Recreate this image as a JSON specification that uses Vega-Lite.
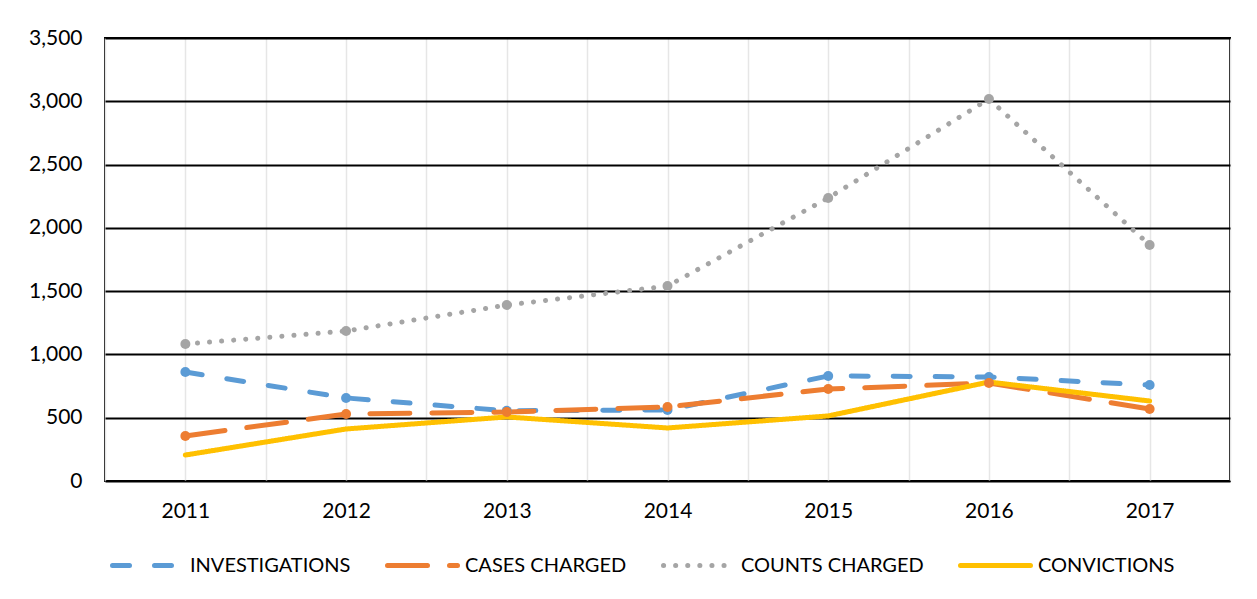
{
  "$schema": "https://vega.github.io/schema/vega-lite/v6.json",
  "width": 1125,
  "height": 443,
  "autosize": {"type": "none"},
  "padding": {"left": 105, "top": 38, "right": 27, "bottom": 118},
  "background": "white",
  "config": {
    "font": "Lato",
    "view": {"stroke": "black", "strokeWidth": 2},
    "axis": {"labelFont": "Lato", "labelFontSize": 21, "labelColor": "black", "ticks": false, "domain": false, "title": null}
  },
  "data": {
    "values": [
      {"year": 2011, "series": "INVESTIGATIONS", "value": 861},
      {"year": 2012, "series": "INVESTIGATIONS", "value": 656},
      {"year": 2013, "series": "INVESTIGATIONS", "value": 555},
      {"year": 2014, "series": "INVESTIGATIONS", "value": 561},
      {"year": 2015, "series": "INVESTIGATIONS", "value": 830},
      {"year": 2016, "series": "INVESTIGATIONS", "value": 822},
      {"year": 2017, "series": "INVESTIGATIONS", "value": 758},
      {"year": 2011, "series": "CASES CHARGED", "value": 356},
      {"year": 2012, "series": "CASES CHARGED", "value": 529},
      {"year": 2013, "series": "CASES CHARGED", "value": 545},
      {"year": 2014, "series": "CASES CHARGED", "value": 585},
      {"year": 2015, "series": "CASES CHARGED", "value": 727},
      {"year": 2016, "series": "CASES CHARGED", "value": 774},
      {"year": 2017, "series": "CASES CHARGED", "value": 569},
      {"year": 2011, "series": "COUNTS CHARGED", "value": 1082},
      {"year": 2012, "series": "COUNTS CHARGED", "value": 1185},
      {"year": 2013, "series": "COUNTS CHARGED", "value": 1390},
      {"year": 2014, "series": "COUNTS CHARGED", "value": 1540},
      {"year": 2015, "series": "COUNTS CHARGED", "value": 2236},
      {"year": 2016, "series": "COUNTS CHARGED", "value": 3018},
      {"year": 2017, "series": "COUNTS CHARGED", "value": 1865},
      {"year": 2011, "series": "CONVICTIONS", "value": 205},
      {"year": 2012, "series": "CONVICTIONS", "value": 411},
      {"year": 2013, "series": "CONVICTIONS", "value": 506},
      {"year": 2014, "series": "CONVICTIONS", "value": 419},
      {"year": 2015, "series": "CONVICTIONS", "value": 514},
      {"year": 2016, "series": "CONVICTIONS", "value": 782},
      {"year": 2017, "series": "CONVICTIONS", "value": 632}
    ]
  },
  "encoding": {
    "x": {
      "field": "year", "type": "quantitative",
      "scale": {"domain": [2010.5, 2017.5], "nice": false, "zero": false},
      "axis": {
        "values": [2010.5, 2011, 2011.5, 2012, 2012.5, 2013, 2013.5, 2014, 2014.5, 2015, 2015.5, 2016, 2016.5, 2017, 2017.5],
        "labelExpr": "datum.value % 1 == 0 ? '' + datum.value : ''",
        "grid": true, "gridColor": "#E6E6E6", "gridWidth": 1.5,
        "labelPadding": 19
      }
    },
    "y": {
      "field": "value", "type": "quantitative",
      "scale": {"domain": [0, 3500], "nice": false},
      "axis": {
        "values": [0, 500, 1000, 1500, 2000, 2500, 3000, 3500],
        "format": ",.0f",
        "grid": true, "gridColor": "black", "gridWidth": 2,
        "labelPadding": 23
      }
    },
    "color": {
      "field": "series", "type": "nominal",
      "scale": {
        "domain": ["INVESTIGATIONS", "CASES CHARGED", "COUNTS CHARGED", "CONVICTIONS"],
        "range": ["#5B9BD5", "#ED7D31", "#A5A5A5", "#FFC000"]
      },
      "legend": {
        "title": null, "orient": "none", "direction": "horizontal",
        "legendX": 5, "legendY": 490, "padding": 0, "gridAlign": "none",
        "symbolType": "stroke", "symbolSize": 4900, "symbolStrokeWidth": 5,
        "labelFont": "Lato", "labelFontSize": 20, "labelColor": "black",
        "labelOffset": 5, "columnPadding": 26, "labelLimit": 400,
        "encode": {"symbols": {"update": {"strokeCap": {"value": "round"}}}}
      }
    }
  },
  "layer": [
    {
      "mark": {"type": "line", "strokeWidth": 5, "strokeCap": "round", "strokeJoin": "round"},
      "encoding": {
        "strokeDash": {
          "field": "series", "type": "nominal",
          "scale": {
            "domain": ["INVESTIGATIONS", "CASES CHARGED", "COUNTS CHARGED", "CONVICTIONS"],
            "range": [[17, 25], [40, 22], [0.1, 12], [1, 0]]
          },
          "legend": {
            "title": null, "orient": "none", "direction": "horizontal",
            "legendX": 5, "legendY": 490, "padding": 0, "gridAlign": "none",
            "symbolType": "stroke", "symbolSize": 4900, "symbolStrokeWidth": 5,
            "labelFont": "Lato", "labelFontSize": 20, "labelColor": "black",
            "labelOffset": 5, "columnPadding": 26, "labelLimit": 400,
            "encode": {"symbols": {"update": {"strokeCap": {"value": "round"}}}}
          }
        }
      }
    },
    {
      "transform": [{"filter": "datum.series != 'CONVICTIONS'"}],
      "mark": {"type": "point", "filled": true, "opacity": 1, "size": 100},
      "encoding": {}
    }
  ]
}
